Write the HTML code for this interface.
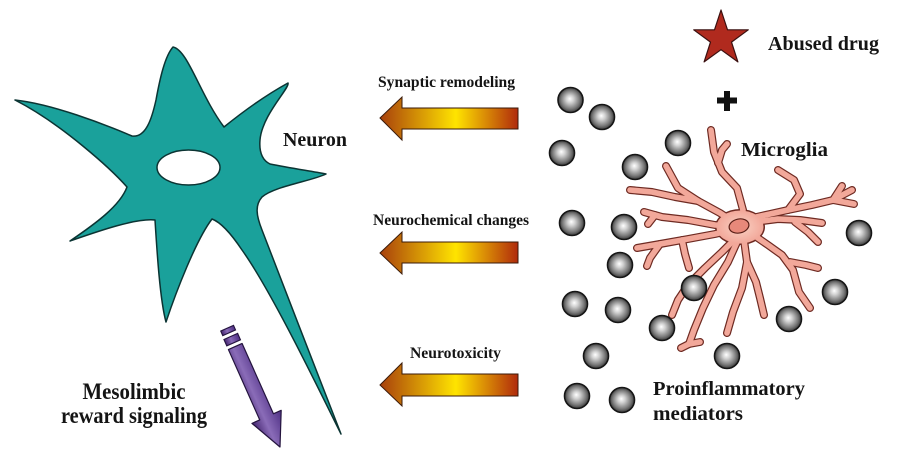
<!DOCTYPE html>
<html><head><meta charset="utf-8"><style>
html,body{margin:0;padding:0;background:#fff;}
svg{display:block;}
text{font-family:"Liberation Serif",serif;font-weight:bold;fill:#141414;}
</style></head><body>
<svg width="900" height="450" viewBox="0 0 900 450" xmlns="http://www.w3.org/2000/svg">
<defs>
<linearGradient id="og" x1="0" y1="0" x2="1" y2="0">
<stop offset="0" stop-color="#a8400c"/>
<stop offset="0.55" stop-color="#ffe400"/>
<stop offset="1" stop-color="#b02a0c"/>
</linearGradient>
<radialGradient id="ball" cx="0.5" cy="0.5" r="0.5" fx="0.47" fy="0.45">
<stop offset="0" stop-color="#ffffff"/>
<stop offset="0.3" stop-color="#d0d0d0"/>
<stop offset="0.75" stop-color="#777777"/>
<stop offset="1" stop-color="#383838"/>
</radialGradient>
<linearGradient id="pg" x1="0" y1="0" x2="1" y2="0">
<stop offset="0" stop-color="#44246f"/>
<stop offset="0.42" stop-color="#8a6cb8"/>
<stop offset="1" stop-color="#4e2f84"/>
</linearGradient>
<radialGradient id="body" cx="0.5" cy="0.5" r="0.5">
<stop offset="0" stop-color="#f9d2c4"/>
<stop offset="1" stop-color="#f2a89a"/>
</radialGradient>
</defs>

<!-- Neuron -->
<path d="M173,47 C188,50 200,95 224,127 C245,110 268,94 288,83 C290,88 262,115 260,140 C259,152 262,160 270,164 C290,168 310,171 326,174 C312,181 275,186 262,197 C255,205 256,215 262,230 C285,290 320,380 341,434 C320,392 272,292 242,250 C230,232 220,222 212,219 C196,240 176,292 166,322 C160,300 157,252 155,220 C135,218 96,232 70,241 C95,224 120,206 127,187 C112,170 62,124 15,100 C52,104 104,124 132,136 C146,138 152,118 156,100 C160,78 165,56 173,47 Z" fill="#1aa19b" stroke="#0b3433" stroke-width="1.5" stroke-linejoin="round"/>
<ellipse cx="188.5" cy="167.5" rx="31.5" ry="17.5" fill="#fff" stroke="#0b3433" stroke-width="1.5"/>

<!-- Orange arrows -->
<polygon points="380,118 402,97 402,108 518,108 518,129 402,129 402,140" fill="url(#og)" stroke="#3a1a0a" stroke-width="1"/>
<polygon points="380,253 402,232 402,242 518,242 518,263 402,263 402,274" fill="url(#og)" stroke="#3a1a0a" stroke-width="1"/>
<polygon points="380,385 402,363 402,374 518,374 518,396 402,396 402,406" fill="url(#og)" stroke="#3a1a0a" stroke-width="1"/>

<text x="446.5" y="87" font-size="15.5" text-anchor="middle" textLength="137" lengthAdjust="spacingAndGlyphs">Synaptic remodeling</text>
<text x="451" y="225" font-size="15.5" text-anchor="middle" textLength="156" lengthAdjust="spacingAndGlyphs">Neurochemical changes</text>
<text x="455.5" y="358" font-size="15.5" text-anchor="middle" textLength="91" lengthAdjust="spacingAndGlyphs">Neurotoxicity</text>

<!-- Purple arrow -->
<g transform="translate(280,447) rotate(-24)">
<polygon points="0,0 -16,-33 -7.5,-33 -7.5,-110 7.5,-110 7.5,-33 16,-33" fill="url(#pg)" stroke="#24143e" stroke-width="1.2" stroke-linejoin="round"/>
<rect x="-7.5" y="-121" width="15" height="7" fill="url(#pg)" stroke="#24143e" stroke-width="1.1"/>
<rect x="-7" y="-130" width="14" height="5" fill="url(#pg)" stroke="#24143e" stroke-width="1.1"/>
</g>

<!-- Star -->
<polygon points="721,10 727.5,29.8 748.3,29.8 731.5,42.1 737.9,61.9 721,49.7 704.1,61.9 710.5,42.1 693.7,29.8 714.5,29.8" fill="#b02a1e" stroke="#3a1010" stroke-width="1.2" stroke-linejoin="round"/>
<!-- Plus -->
<rect x="717" y="97.5" width="20" height="6" fill="#111"/>
<rect x="724" y="91" width="6" height="20" fill="#111"/>

<!-- Microglia -->
<g fill="none" stroke-linecap="round" stroke-linejoin="round">
<g stroke="#6e2a22" stroke-width="8">
<path d="M740,226 L743,210 L737,188 L722,172 L714,152 L711,130"/>
<path d="M718,163 L722,150 L727,144"/>
<path d="M740,226 L720,213 L698,201 L678,188 L666,166"/>
<path d="M698,201 L675,197 L652,192 L630,190"/>
<path d="M740,226 L715,225 L688,220 L662,217 L644,212"/>
<path d="M655,215 L648,224"/>
<path d="M740,228 L715,234 L688,239 L660,244 L637,248"/>
<path d="M660,244 L650,258 L647,266"/>
<path d="M682,240 L685,254 L689,268"/>
<path d="M736,238 L722,252 L705,268 L688,285 L678,300 L672,315"/>
<path d="M738,240 L728,262 L714,285 L703,308 L694,330 L689,344"/>
<path d="M689,344 L681,348 M689,344 L700,342"/>
<path d="M744,240 L747,262 L742,288 L733,312 L727,333"/>
<path d="M747,262 L756,282 L760,298 L764,315"/>
<path d="M752,234 L768,245 L782,255 L793,270 L799,292 L810,308"/>
<path d="M790,262 L806,265 L818,268"/>
<path d="M755,222 L778,219 L800,220 L822,223"/>
<path d="M795,222 L808,232 L818,242"/>
<path d="M752,218 L770,214 L788,210 L812,205 L833,200 L852,190"/>
<path d="M833,200 L842,186 M833,200 L854,204"/>
<path d="M788,210 L800,194 L794,180 L778,170"/>
</g>
<ellipse cx="740" cy="227" rx="25" ry="18" fill="#6e2a22" stroke="none"/>
<g stroke="#f2a89a" stroke-width="5.6">
<path d="M740,226 L743,210 L737,188 L722,172 L714,152 L711,130"/>
<path d="M718,163 L722,150 L727,144"/>
<path d="M740,226 L720,213 L698,201 L678,188 L666,166"/>
<path d="M698,201 L675,197 L652,192 L630,190"/>
<path d="M740,226 L715,225 L688,220 L662,217 L644,212"/>
<path d="M655,215 L648,224"/>
<path d="M740,228 L715,234 L688,239 L660,244 L637,248"/>
<path d="M660,244 L650,258 L647,266"/>
<path d="M682,240 L685,254 L689,268"/>
<path d="M736,238 L722,252 L705,268 L688,285 L678,300 L672,315"/>
<path d="M738,240 L728,262 L714,285 L703,308 L694,330 L689,344"/>
<path d="M689,344 L681,348 M689,344 L700,342"/>
<path d="M744,240 L747,262 L742,288 L733,312 L727,333"/>
<path d="M747,262 L756,282 L760,298 L764,315"/>
<path d="M752,234 L768,245 L782,255 L793,270 L799,292 L810,308"/>
<path d="M790,262 L806,265 L818,268"/>
<path d="M755,222 L778,219 L800,220 L822,223"/>
<path d="M795,222 L808,232 L818,242"/>
<path d="M752,218 L770,214 L788,210 L812,205 L833,200 L852,190"/>
<path d="M833,200 L842,186 M833,200 L854,204"/>
<path d="M788,210 L800,194 L794,180 L778,170"/>
</g>
<ellipse cx="740" cy="227" rx="23.5" ry="16.5" fill="url(#body)" stroke="none"/>
<ellipse cx="739" cy="226" rx="10" ry="7" fill="#e8897a" stroke="#5a2018" stroke-width="1.2" transform="rotate(-12 739 226)"/>
</g>

<!-- Balls -->
<g fill="url(#ball)" stroke="#151515" stroke-width="1.6">
<circle cx="570.5" cy="100" r="12.5"/>
<circle cx="602" cy="117" r="12.5"/>
<circle cx="562" cy="153" r="12.5"/>
<circle cx="678" cy="143" r="12.5"/>
<circle cx="635" cy="167" r="12.5"/>
<circle cx="572" cy="223" r="12.5"/>
<circle cx="624" cy="227" r="12.5"/>
<circle cx="859" cy="233" r="12.5"/>
<circle cx="620" cy="265" r="12.5"/>
<circle cx="694" cy="288" r="12.5"/>
<circle cx="835" cy="292" r="12.5"/>
<circle cx="575" cy="304" r="12.5"/>
<circle cx="618" cy="310" r="12.5"/>
<circle cx="789" cy="319" r="12.5"/>
<circle cx="662" cy="328" r="12.5"/>
<circle cx="596" cy="356" r="12.5"/>
<circle cx="727" cy="356" r="12.5"/>
<circle cx="577" cy="396" r="12.5"/>
<circle cx="622" cy="400" r="12.5"/>
</g>

<!-- Labels -->
<text x="768" y="50" font-size="20" textLength="111" lengthAdjust="spacingAndGlyphs">Abused drug</text>
<text x="283" y="146" font-size="20" textLength="64" lengthAdjust="spacingAndGlyphs">Neuron</text>
<text x="741" y="156" font-size="20.5" textLength="87" lengthAdjust="spacingAndGlyphs">Microglia</text>
<text x="653" y="395" font-size="20.5" textLength="152" lengthAdjust="spacingAndGlyphs">Proinflammatory</text>
<text x="653" y="420" font-size="20.5" textLength="90" lengthAdjust="spacingAndGlyphs">mediators</text>
<g transform="translate(134,399) scale(1,1.12)">
<text x="0" y="0" font-size="20.5" text-anchor="middle" textLength="103" lengthAdjust="spacingAndGlyphs">Mesolimbic</text>
</g>
<g transform="translate(134,423) scale(1,1.12)">
<text x="0" y="0" font-size="20.5" text-anchor="middle" textLength="146" lengthAdjust="spacingAndGlyphs">reward signaling</text>
</g>
</svg>
</body></html>
